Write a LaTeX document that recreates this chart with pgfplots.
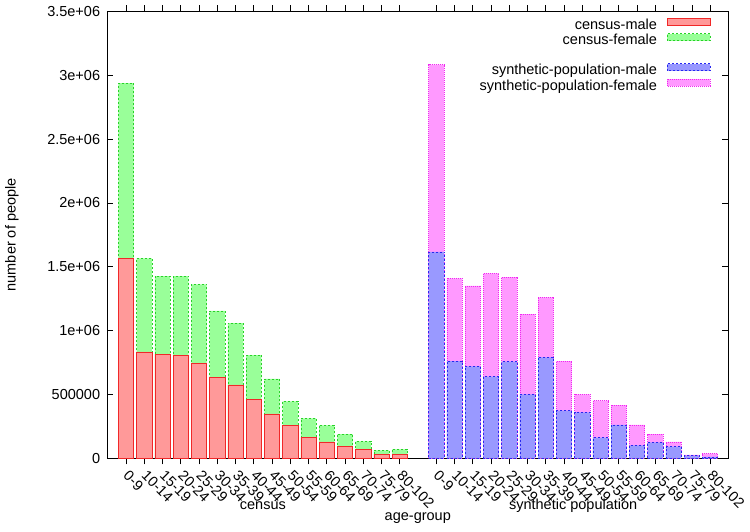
\documentclass[border=0pt]{standalone}
\usepackage{pgfplots}
\usepackage{pgfplotstable}
\pgfplotsset{compat=1.18}
\usepackage{fontspec}
\setmainfont{Liberation Sans}

\definecolor{cmfill}{RGB}{255,153,153}
\definecolor{cmline}{RGB}{240,40,40}
\definecolor{cffill}{RGB}{153,255,153}
\definecolor{cfline}{RGB}{40,210,40}
\definecolor{smfill}{RGB}{153,153,255}
\definecolor{smline}{RGB}{40,40,240}
\definecolor{sffill}{RGB}{255,153,255}
\definecolor{sfline}{RGB}{240,40,240}

\newcommand{\chartfont}{\fontsize{14.5}{17}\selectfont}

% census: x position, male, female
\pgfplotstableread{
x  male    female
0  1565000 1372000
1  834000  731000
2  814000  612500
3  808000  618500
4  743000  618500
5  631000  524000
6  574000  485000
7  462000  346000
8  347000  274000
9  255000  191000
10 164000  149000
11 128000  130000
12 91000   99000
13 67000   66000
14 31000   32000
15 31000   39000
}\census

% synthetic population: x position, male, female
\pgfplotstableread{
x  male    female
17 1617000 1466000
18 761000  647500
19 720000  631000
20 639000  808500
21 756000  663000
22 501000  628000
23 790000  470000
24 373000  388000
25 360000  141000
26 161000  290000
27 261000  156000
28 102000  159000
29 125000  65000
30 91000   37000
31 20000   6000
32 12000   24000
}\synth

\newcommand{\boxlegend}[1]{\addlegendimage{legend image code/.code={\draw[#1] (0pt,1pt) rectangle (43pt,8pt);}}}

\begin{document}
\begin{tikzpicture}[font=\chartfont]
\begin{axis}[
    scale only axis, width=621pt, height=447pt,
    xmin=-1.025, xmax=33, ymin=0, ymax=3500000,
    clip mode=individual,
    axis line style={black, line width=0.7pt},
    tick style={black, line width=0.6pt},
    tick align=inside, major tick length=6pt,
    tick label style={font=\chartfont},
    label style={font=\chartfont},
    xtick={0,...,15,17,18,...,32},
    xticklabels={0-9,10-14,15-19,20-24,25-29,30-34,35-39,40-44,45-49,50-54,55-59,60-64,65-69,70-74,75-79,80-102,
                 0-9,10-14,15-19,20-24,25-29,30-34,35-39,40-44,45-49,50-54,55-59,60-64,65-69,70-74,75-79,80-102},
    xticklabel style={xshift=0pt, yshift=-9pt, rotate=-45, anchor=west, inner sep=0pt},
    ytick={0,500000,1000000,1500000,2000000,2500000,3000000,3500000},
    yticklabels={0,500000,1e+06,1.5e+06,2e+06,2.5e+06,3e+06,3.5e+06},
    scaled y ticks=false,
    /pgf/number format/assume math mode=true,
    yticklabel style={inner sep=0pt, xshift=-7pt},
    xlabel={age-group},
    xlabel style={at={(axis description cs:0.5,-0.134)}, anchor=center},
    ylabel={number of people},
    ylabel style={at={(axis description cs:-0.1535,0.5)}, anchor=center},
    legend cell align=right,
    legend plot pos=right,
    legend style={at={(1,1)}, anchor=north east, xshift=-17.6pt, yshift=-6.5pt,
        font=\chartfont,
        draw=none, fill=none, inner sep=0pt, row sep=0pt, column sep=10pt,
        nodes={inner sep=0pt, text height=10.5pt, text depth=4pt}},
    ybar, bar width=0.83, bar shift=0pt,
]
% census: female part on top of male part
\addplot[forget plot, fill=cffill, draw=cfline, line width=0.5pt, dash pattern=on 2pt off 2pt]
    table[x=x, y expr=\thisrow{male}+\thisrow{female}] {\census};
\addplot[forget plot, fill=cmfill, draw=cmline, line width=0.5pt]
    table[x=x, y=male] {\census};
% synthetic population
\addplot[forget plot, fill=sffill, draw=sfline, line width=0.5pt, dash pattern=on 1pt off 1pt]
    table[x=x, y expr=\thisrow{male}+\thisrow{female}] {\synth};
\addplot[forget plot, fill=smfill, draw=smline, line width=0.5pt, dash pattern=on 2pt off 2pt]
    table[x=x, y=male] {\synth};

\boxlegend{fill=cmfill, draw=cmline, line width=0.5pt}
\addlegendentry{census-male}
\boxlegend{fill=cffill, draw=cfline, line width=0.5pt, dash pattern=on 2pt off 2pt}
\addlegendentry{census-female}
\addlegendimage{empty legend}
\addlegendentry{}
\boxlegend{fill=smfill, draw=smline, line width=0.5pt, dash pattern=on 2pt off 2pt}
\addlegendentry{synthetic-population-male}
\boxlegend{fill=sffill, draw=sfline, line width=0.5pt, dash pattern=on 1pt off 1pt}
\addlegendentry{synthetic-population-female}

\node[font=\chartfont] at (axis cs:7.5,0) [yshift=-47.7pt] {census};
\node[font=\chartfont] at (axis cs:24.5,0) [yshift=-47.7pt] {synthetic population};
\coordinate (ll) at (rel axis cs:0,0);
\end{axis}
\pgfresetboundingbox
\useasboundingbox (ll) ++(-107.3pt,-73.7pt) rectangle ++(750pt,532pt);
\end{tikzpicture}
\end{document}
